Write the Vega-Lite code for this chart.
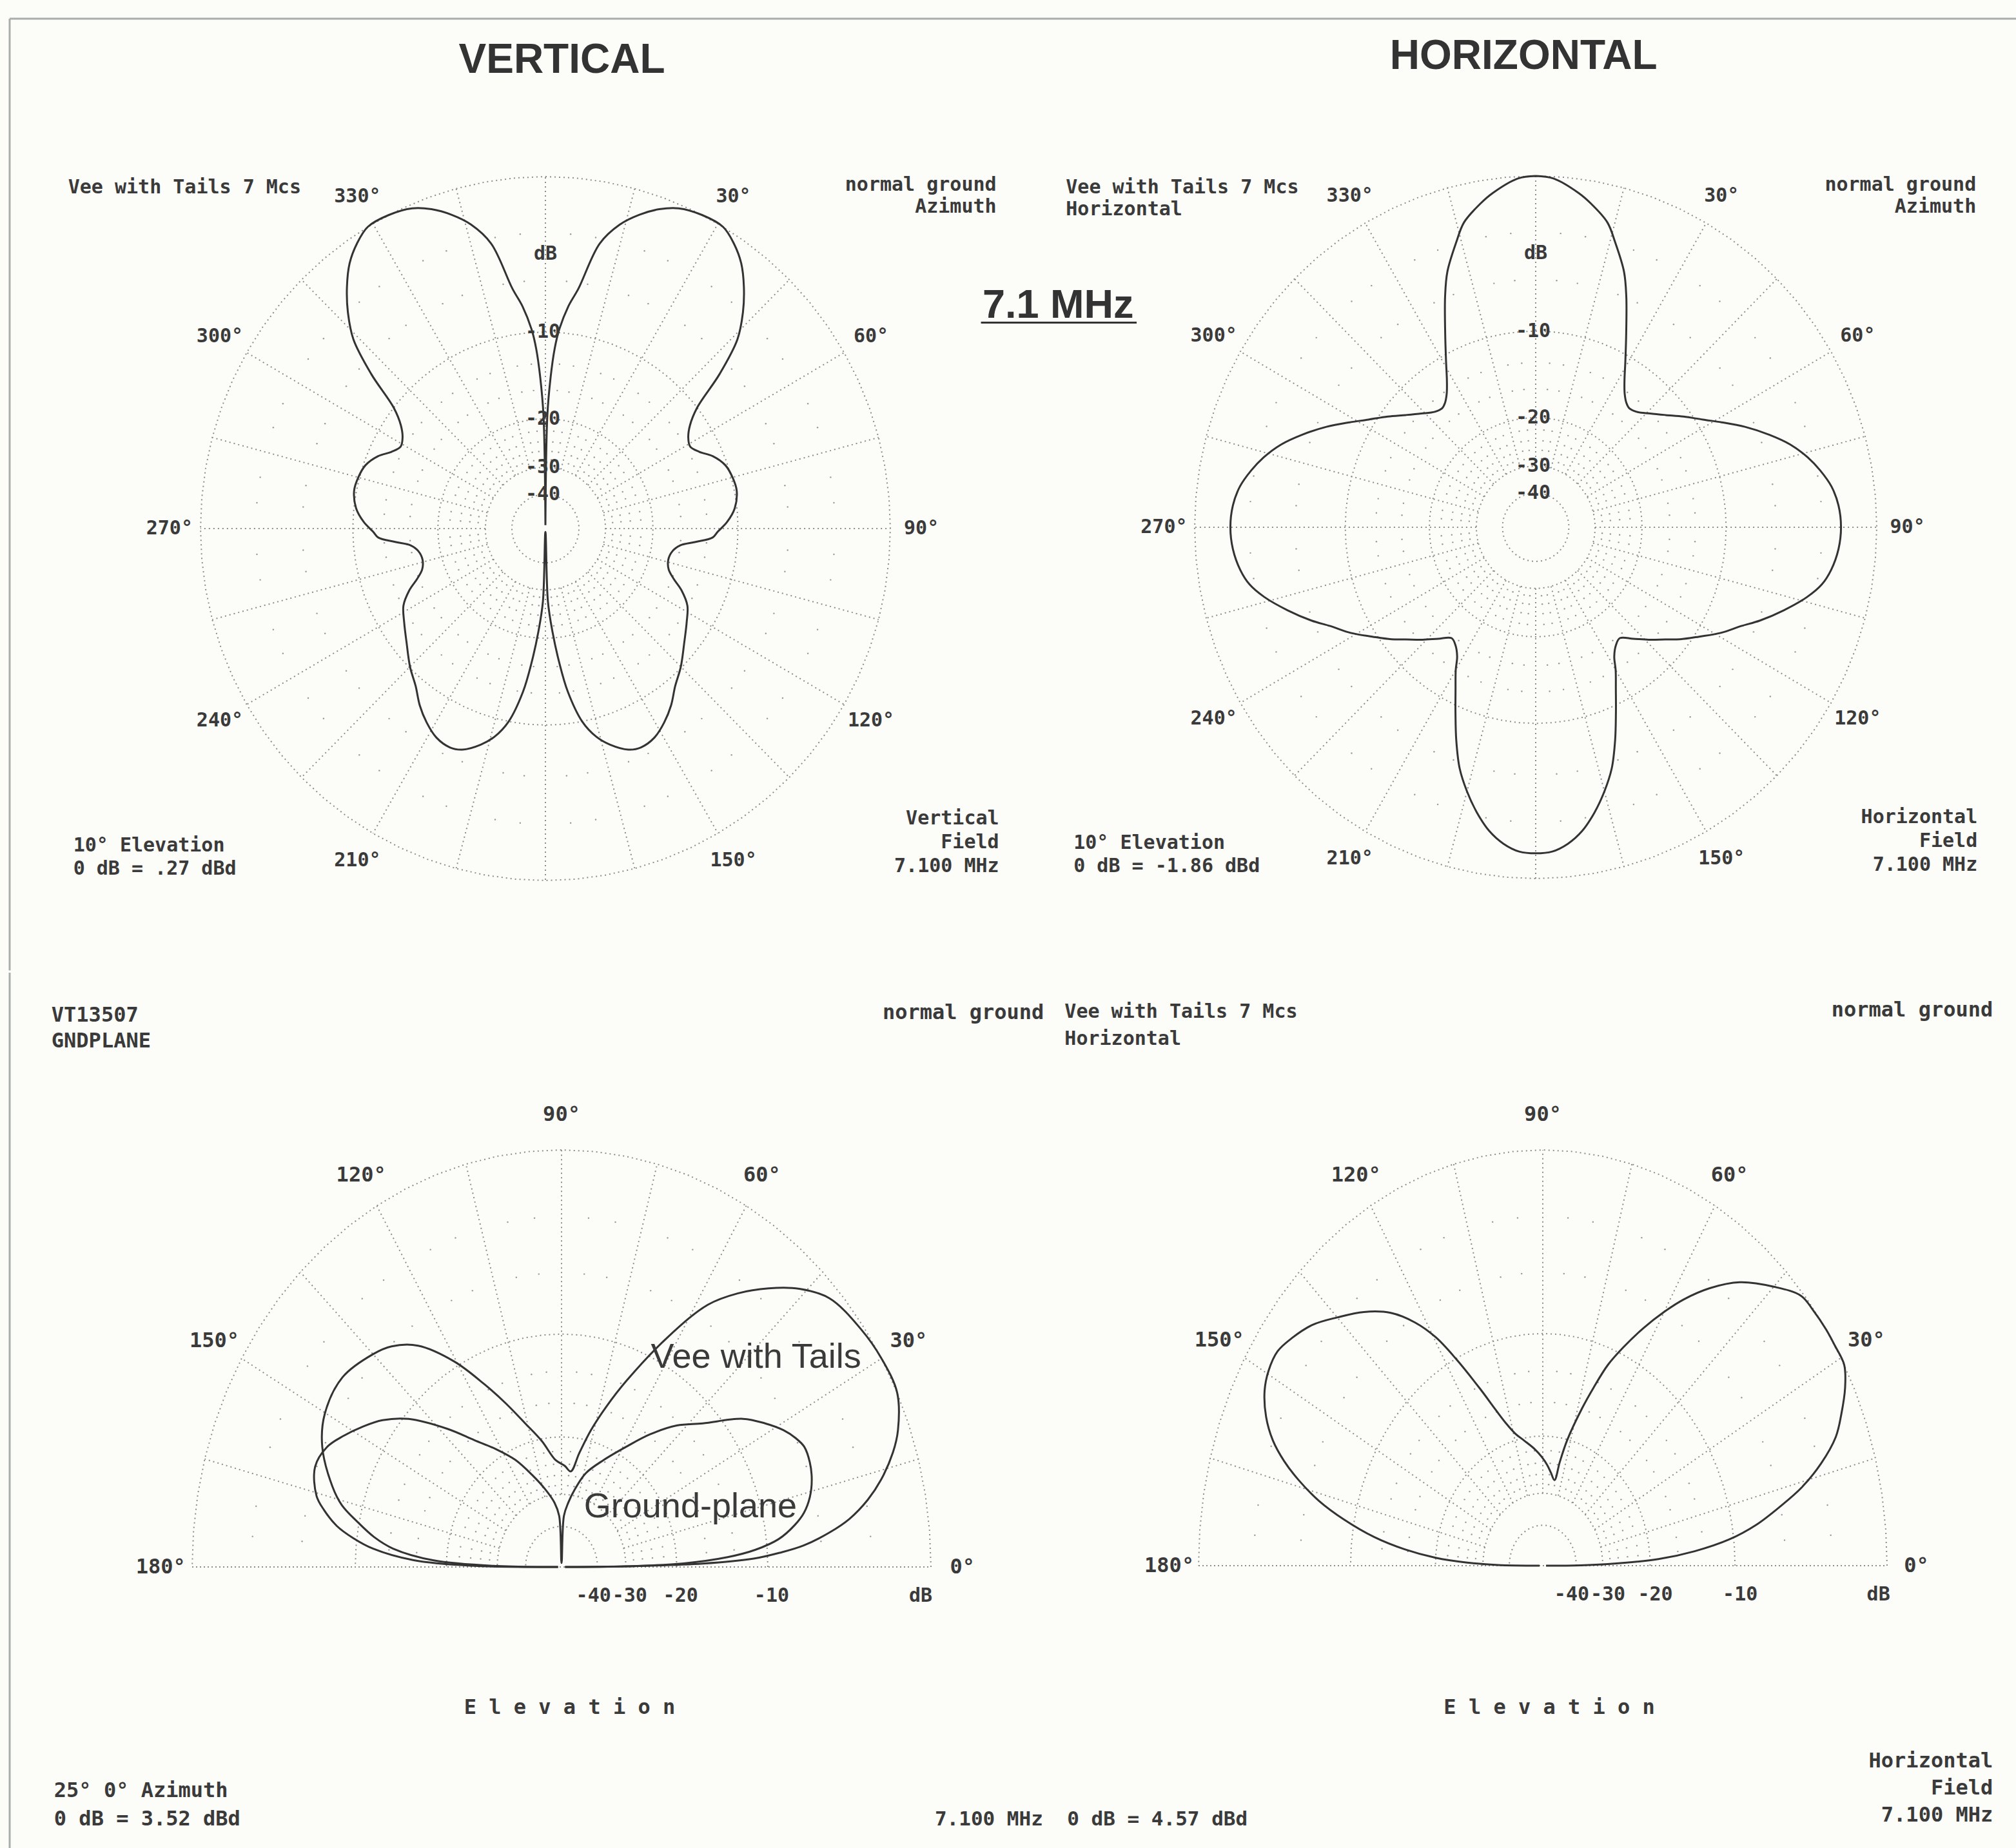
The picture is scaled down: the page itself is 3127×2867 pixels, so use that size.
{
  "$schema": "https://vega.github.io/schema/vega-lite/v6.json",
  "background": "#fcfcf8",
  "padding": 0,
  "spacing": 0,
  "config": {
    "view": {"stroke": null},
    "axis": {"disable": true},
    "concat": {"spacing": 0},
    "text": {"font": "DejaVu Sans Mono", "fontWeight": "bold", "fontSize": 30, "fill": "#3a3a3a"}
  },
  "datasets": {
    "ringsAz": [{"ring": [0, -10, -20, -30, -40], "a": [0,5,10,15,20,25,30,35,40,45,50,55,60,65,70,75,80,85,90,95,100,105,110,115,120,125,130,135,140,145,150,155,160,165,170,175,180,185,190,195,200,205,210,215,220,225,230,235,240,245,250,255,260,265,270,275,280,285,290,295,300,305,310,315,320,325,330,335,340,345,350,355,360]}],
    "ringsEl": [{"ring": [0, -10, -20, -30, -40], "a": [0,5,10,15,20,25,30,35,40,45,50,55,60,65,70,75,80,85,90,95,100,105,110,115,120,125,130,135,140,145,150,155,160,165,170,175,180]}],
    "dotsAz": [{"m": [-3, -6, -13, -16, -22, -24, -26, -28], "a": [5,10,20,25,35,40,50,55,65,70,80,85,95,100,110,115,125,130,140,145,155,160,170,175,185,190,200,205,215,220,230,235,245,250,260,265,275,280,290,295,305,310,320,325,335,340,350,355]}],
    "dotsEl": [{"m": [-3, -6, -13, -16, -22, -24, -26, -28], "a": [5,10,20,25,35,40,50,55,65,70,80,85,95,100,110,115,125,130,140,145,155,160,170,175]}],
    "spokesAz": [{"s": [0,15,30,45,60,75,90,105,120,135,150,165,180,195,210,225,240,255,270,285,300,315,330,345]}],
    "spokesEl": [{"s": [15,30,45,60,75,90,105,120,135,150,165]}],
    "angAz": [{"a": 30, "t": "30°"}, {"a": 60, "t": "60°"}, {"a": 90, "t": "90°"}, {"a": 120, "t": "120°"}, {"a": 150, "t": "150°"}, {"a": 210, "t": "210°"}, {"a": 240, "t": "240°"}, {"a": 270, "t": "270°"}, {"a": 300, "t": "300°"}, {"a": 330, "t": "330°"}],
    "angEl": [{"a": 0, "t": "0°"}, {"a": 30, "t": "30°"}, {"a": 60, "t": "60°"}, {"a": 90, "t": "90°"}, {"a": 120, "t": "120°"}, {"a": 150, "t": "150°"}, {"a": 180, "t": "180°"}],
    "dbLab": [{"d": -10, "t": "-10"}, {"d": -20, "t": "-20"}, {"d": -30, "t": "-30"}, {"d": -40, "t": "-40"}],
    "vaz": [
      {"az":0,"dB":-80},{"az":1,"dB":-19.5},{"az":2,"dB":-14.5},{"az":3,"dB":-11.5},{"az":4,"dB":-9.8},{"az":6,"dB":-7.8},{"az":8,"dB":-6.4},{"az":11,"dB":-3.3},{"az":14,"dB":-2.0},{"az":17,"dB":-1.2},{"az":20,"dB":-0.6},{"az":23,"dB":-0.2},{"az":27,"dB":0},{"az":31,"dB":0},{"az":34,"dB":-0.4},{"az":37,"dB":-1.0},{"az":40,"dB":-1.9},{"az":43,"dB":-3.0},{"az":46,"dB":-4.4},{"az":49,"dB":-6.9},{"az":52,"dB":-10.0},{"az":55,"dB":-11.5},{"az":58,"dB":-12.3},{"az":61,"dB":-12.6},{"az":64,"dB":-12.0},{"az":67,"dB":-11.0},{"az":71,"dB":-10.2},{"az":75,"dB":-9.9},{"az":79,"dB":-9.8},{"az":84,"dB":-10.2},{"az":88,"dB":-11.0},{"az":91,"dB":-11.9},{"az":93,"dB":-12.4},{"az":95,"dB":-14.2},{"az":97,"dB":-16.0},{"az":100,"dB":-16.9},{"az":104,"dB":-17.2},{"az":108,"dB":-16.8},{"az":111,"dB":-15.8},{"az":114,"dB":-14.4},{"az":118,"dB":-13.1},{"az":123,"dB":-12.3},{"az":129,"dB":-11.3},{"az":135,"dB":-10.1},{"az":140,"dB":-9.2},{"az":144,"dB":-8.2},{"az":148,"dB":-7.4},{"az":152,"dB":-6.8},{"az":156,"dB":-6.6},{"az":159,"dB":-6.8},{"az":163,"dB":-7.6},{"az":166,"dB":-8.5},{"az":169,"dB":-10.0},{"az":172,"dB":-13.0},{"az":174,"dB":-16.5},{"az":176,"dB":-21},{"az":178,"dB":-27},{"az":180,"dB":-80},
      {"az":182,"dB":-27},{"az":184,"dB":-21},{"az":186,"dB":-16.5},{"az":188,"dB":-13.0},{"az":191,"dB":-10.0},{"az":194,"dB":-8.5},{"az":197,"dB":-7.6},{"az":201,"dB":-6.8},{"az":204,"dB":-6.6},{"az":208,"dB":-6.8},{"az":212,"dB":-7.4},{"az":216,"dB":-8.2},{"az":220,"dB":-9.2},{"az":225,"dB":-10.1},{"az":231,"dB":-11.3},{"az":237,"dB":-12.3},{"az":242,"dB":-13.1},{"az":246,"dB":-14.4},{"az":249,"dB":-15.8},{"az":252,"dB":-16.8},{"az":256,"dB":-17.2},{"az":260,"dB":-16.9},{"az":263,"dB":-16.0},{"az":265,"dB":-14.2},{"az":267,"dB":-12.4},{"az":269,"dB":-11.9},{"az":272,"dB":-11.0},{"az":276,"dB":-10.2},{"az":281,"dB":-9.8},{"az":285,"dB":-9.9},{"az":289,"dB":-10.2},{"az":293,"dB":-11.0},{"az":296,"dB":-12.0},{"az":299,"dB":-12.6},{"az":302,"dB":-12.3},{"az":305,"dB":-11.5},{"az":308,"dB":-10.0},{"az":311,"dB":-6.9},{"az":314,"dB":-4.4},{"az":317,"dB":-3.0},{"az":320,"dB":-1.9},{"az":323,"dB":-1.0},{"az":326,"dB":-0.4},{"az":329,"dB":0},{"az":333,"dB":0},{"az":337,"dB":-0.2},{"az":340,"dB":-0.6},{"az":343,"dB":-1.2},{"az":346,"dB":-2.0},{"az":349,"dB":-3.3},{"az":352,"dB":-6.4},{"az":354,"dB":-7.8},{"az":356,"dB":-9.8},{"az":357,"dB":-11.5},{"az":358,"dB":-14.5},{"az":359,"dB":-19.5},{"az":360,"dB":-80}
    ],
    "haz": [
      {"az":0,"dB":0},{"az":3,"dB":-0.1},{"az":7.5,"dB":-0.7},{"az":10,"dB":-1.15},{"az":13.6,"dB":-1.94},{"az":16,"dB":-2.9},{"az":19.6,"dB":-4.44},{"az":22,"dB":-5.9},{"az":25.7,"dB":-8.43},{"az":29,"dB":-10.5},{"az":32,"dB":-12.2},{"az":34.5,"dB":-13.3},{"az":37,"dB":-14.0},{"az":39,"dB":-14.25},{"az":42,"dB":-14.0},{"az":46,"dB":-13.1},{"az":50,"dB":-12.0},{"az":54,"dB":-10.7},{"az":58,"dB":-9.4},{"az":61.3,"dB":-8.15},{"az":65,"dB":-6.7},{"az":69,"dB":-5.3},{"az":72.5,"dB":-4.2},{"az":76,"dB":-3.36},{"az":79,"dB":-2.8},{"az":82.4,"dB":-2.29},{"az":86,"dB":-2.0},{"az":90,"dB":-1.9},{"az":94,"dB":-2.0},{"az":98,"dB":-2.3},{"az":101,"dB":-2.7},{"az":104,"dB":-3.4},{"az":108,"dB":-4.6},{"az":112,"dB":-5.9},{"az":115,"dB":-7.0},{"az":119,"dB":-8.2},{"az":123,"dB":-9.6},{"az":127,"dB":-10.9},{"az":130,"dB":-12.0},{"az":134,"dB":-13.3},{"az":138,"dB":-14.6},{"az":142,"dB":-15.7},{"az":145,"dB":-15.3},{"az":148,"dB":-14.3},{"az":150,"dB":-13.0},{"az":153,"dB":-11.3},{"az":156,"dB":-9.4},{"az":159,"dB":-7.4},{"az":162,"dB":-5.6},{"az":165,"dB":-4.3},{"az":168,"dB":-3.2},{"az":171,"dB":-2.3},{"az":174,"dB":-1.7},{"az":177,"dB":-1.35},{"az":180,"dB":-1.28},
      {"az":183,"dB":-1.35},{"az":186,"dB":-1.7},{"az":189,"dB":-2.3},{"az":192,"dB":-3.2},{"az":195,"dB":-4.3},{"az":198,"dB":-5.6},{"az":201,"dB":-7.4},{"az":204,"dB":-9.4},{"az":207,"dB":-11.3},{"az":210,"dB":-13.0},{"az":212,"dB":-14.3},{"az":215,"dB":-15.3},{"az":218,"dB":-15.7},{"az":222,"dB":-14.6},{"az":226,"dB":-13.3},{"az":230,"dB":-12.0},{"az":233,"dB":-10.9},{"az":237,"dB":-9.6},{"az":241,"dB":-8.2},{"az":245,"dB":-7.0},{"az":248,"dB":-5.9},{"az":252,"dB":-4.6},{"az":256,"dB":-3.4},{"az":259,"dB":-2.7},{"az":262,"dB":-2.3},{"az":266,"dB":-2.0},{"az":270,"dB":-1.9},{"az":274,"dB":-2.0},{"az":277.6,"dB":-2.29},{"az":281,"dB":-2.8},{"az":284,"dB":-3.36},{"az":287.5,"dB":-4.2},{"az":291,"dB":-5.3},{"az":295,"dB":-6.7},{"az":298.7,"dB":-8.15},{"az":302,"dB":-9.4},{"az":306,"dB":-10.7},{"az":310,"dB":-12.0},{"az":314,"dB":-13.1},{"az":318,"dB":-14.0},{"az":321,"dB":-14.25},{"az":323,"dB":-14.0},{"az":325.5,"dB":-13.3},{"az":328,"dB":-12.2},{"az":331,"dB":-10.5},{"az":334.3,"dB":-8.43},{"az":338,"dB":-5.9},{"az":340.4,"dB":-4.44},{"az":344,"dB":-2.9},{"az":346.4,"dB":-1.94},{"az":350,"dB":-1.15},{"az":352.5,"dB":-0.7},{"az":357,"dB":-0.1},{"az":360,"dB":0}
    ],
    "bl": [
      {"s":"Vee","el":0,"dB":-80},{"s":"Vee","el":0.5,"dB":-30},{"s":"Vee","el":1.2,"dB":-16.5},{"s":"Vee","el":2.2,"dB":-11.2},{"s":"Vee","el":3.3,"dB":-9.0},{"s":"Vee","el":4.5,"dB":-7.2},{"s":"Vee","el":6.5,"dB":-5.4},{"s":"Vee","el":8.4,"dB":-4.1},{"s":"Vee","el":11,"dB":-2.9},{"s":"Vee","el":13.6,"dB":-2.0},{"s":"Vee","el":17,"dB":-1.1},{"s":"Vee","el":19.8,"dB":-0.56},{"s":"Vee","el":24.7,"dB":0},{"s":"Vee","el":30,"dB":0},{"s":"Vee","el":35,"dB":-0.15},{"s":"Vee","el":41.6,"dB":-0.52},{"s":"Vee","el":46,"dB":-1.3},{"s":"Vee","el":50,"dB":-2.35},{"s":"Vee","el":54,"dB":-3.6},{"s":"Vee","el":57.8,"dB":-5.1},{"s":"Vee","el":62.5,"dB":-8.2},{"s":"Vee","el":68.5,"dB":-12.6},{"s":"Vee","el":72.5,"dB":-15.6},{"s":"Vee","el":76.3,"dB":-18.6},{"s":"Vee","el":80,"dB":-22},{"s":"Vee","el":83.8,"dB":-25.2},{"s":"Vee","el":88,"dB":-24.3},{"s":"Vee","el":93.7,"dB":-23.3},{"s":"Vee","el":100,"dB":-20.3},{"s":"Vee","el":106,"dB":-17.6},{"s":"Vee","el":111,"dB":-14.9},{"s":"Vee","el":115.5,"dB":-12.4},{"s":"Vee","el":120.5,"dB":-9.6},{"s":"Vee","el":126.2,"dB":-7.2},{"s":"Vee","el":131,"dB":-6.1},{"s":"Vee","el":135,"dB":-5.6},{"s":"Vee","el":142.5,"dB":-5.0},{"s":"Vee","el":150.2,"dB":-5.2},{"s":"Vee","el":156,"dB":-5.9},{"s":"Vee","el":162.7,"dB":-7.4},{"s":"Vee","el":166,"dB":-8.4},{"s":"Vee","el":169,"dB":-9.9},{"s":"Vee","el":172,"dB":-11.5},{"s":"Vee","el":174.5,"dB":-13.4},{"s":"Vee","el":177.4,"dB":-18.2},{"s":"Vee","el":179.3,"dB":-30},{"s":"Vee","el":180,"dB":-80},
      {"s":"GP","el":0,"dB":-80},{"s":"GP","el":0.5,"dB":-30},{"s":"GP","el":1.5,"dB":-19},{"s":"GP","el":3,"dB":-13.7},{"s":"GP","el":4.5,"dB":-11},{"s":"GP","el":6.5,"dB":-9.0},{"s":"GP","el":9,"dB":-7.7},{"s":"GP","el":11.2,"dB":-6.9},{"s":"GP","el":14,"dB":-6.3},{"s":"GP","el":17.2,"dB":-5.9},{"s":"GP","el":20.5,"dB":-5.7},{"s":"GP","el":23.7,"dB":-5.7},{"s":"GP","el":26,"dB":-6.0},{"s":"GP","el":28.6,"dB":-6.5},{"s":"GP","el":32,"dB":-7.4},{"s":"GP","el":35.9,"dB":-8.6},{"s":"GP","el":42,"dB":-11.4},{"s":"GP","el":47.4,"dB":-13.3},{"s":"GP","el":53,"dB":-15.8},{"s":"GP","el":58.6,"dB":-18.6},{"s":"GP","el":66,"dB":-21.8},{"s":"GP","el":73.7,"dB":-24.9},{"s":"GP","el":79,"dB":-28.5},{"s":"GP","el":83.3,"dB":-32},{"s":"GP","el":87,"dB":-36},{"s":"GP","el":90,"dB":-80},{"s":"GP","el":93,"dB":-36},{"s":"GP","el":97,"dB":-32},{"s":"GP","el":103.3,"dB":-28.4},{"s":"GP","el":110,"dB":-24.8},{"s":"GP","el":116,"dB":-21.5},{"s":"GP","el":122,"dB":-18.9},{"s":"GP","el":127.8,"dB":-16.4},{"s":"GP","el":133,"dB":-13.6},{"s":"GP","el":139.4,"dB":-10.4},{"s":"GP","el":144,"dB":-8.8},{"s":"GP","el":148,"dB":-7.8},{"s":"GP","el":152,"dB":-6.9},{"s":"GP","el":155.6,"dB":-6.2},{"s":"GP","el":160.2,"dB":-5.9},{"s":"GP","el":165.6,"dB":-6.5},{"s":"GP","el":168,"dB":-7.2},{"s":"GP","el":170.8,"dB":-8.3},{"s":"GP","el":173,"dB":-9.7},{"s":"GP","el":175.1,"dB":-11.5},{"s":"GP","el":177.7,"dB":-15.7},{"s":"GP","el":179.3,"dB":-24},{"s":"GP","el":180,"dB":-80}
    ],
    "hel": [
      {"el":0,"dB":-80},{"el":0.5,"dB":-38},{"el":1.2,"dB":-28.6},{"el":2.7,"dB":-18.7},{"el":4.5,"dB":-14},{"el":6.66,"dB":-10.4},{"el":9,"dB":-8.0},{"el":11.7,"dB":-6.0},{"el":14,"dB":-4.4},{"el":16.9,"dB":-2.9},{"el":20,"dB":-1.7},{"el":22.8,"dB":-1.05},{"el":26,"dB":-0.4},{"el":28.9,"dB":0},{"el":32,"dB":0},{"el":34.6,"dB":0},{"el":38,"dB":-0.05},{"el":40.9,"dB":-0.14},{"el":45,"dB":-0.9},{"el":50,"dB":-2.0},{"el":54,"dB":-3.3},{"el":57.4,"dB":-4.7},{"el":60,"dB":-6.0},{"el":62.9,"dB":-7.6},{"el":66,"dB":-9.5},{"el":68.6,"dB":-11.25},{"el":71,"dB":-13.6},{"el":73.2,"dB":-15.9},{"el":76.8,"dB":-20.1},{"el":78.8,"dB":-23.5},{"el":80.6,"dB":-26.9},{"el":84,"dB":-25.6},{"el":87,"dB":-24.3},{"el":90.7,"dB":-23.0},{"el":95,"dB":-21.7},{"el":100.3,"dB":-20.3},{"el":104,"dB":-19.2},{"el":107.3,"dB":-17.6},{"el":110,"dB":-15.8},{"el":113.2,"dB":-13.2},{"el":116.9,"dB":-10.0},{"el":119.5,"dB":-7.9},{"el":122.4,"dB":-6.3},{"el":126,"dB":-4.9},{"el":130.4,"dB":-3.8},{"el":135,"dB":-2.9},{"el":139.1,"dB":-2.1},{"el":143,"dB":-1.6},{"el":146.2,"dB":-1.3},{"el":149.5,"dB":-1.35},{"el":152.5,"dB":-1.6},{"el":156,"dB":-2.2},{"el":159,"dB":-3.0},{"el":161.5,"dB":-4.0},{"el":163.8,"dB":-5.2},{"el":166.5,"dB":-6.9},{"el":169.1,"dB":-9.1},{"el":172,"dB":-12.1},{"el":174.4,"dB":-15.6},{"el":176.5,"dB":-20},{"el":178,"dB":-25.7},{"el":179.3,"dB":-35},{"el":180,"dB":-80}
    ]
  },
  "vconcat": [
    {
      "spacing": 0,
      "bounds": "flush",
      "hconcat": [
        {
          "width": 1563,
          "height": 1500,
          "layer": [
            {
              "data": {"name": "ringsAz"},
              "transform": [{"flatten": ["ring"]}, {"flatten": ["a"]}, {"calculate": "pow(0.89,-datum.ring/2)", "as": "r"}, {"calculate": "datum.r*sin(datum.a*PI/180)", "as": "x"}, {"calculate": "datum.r*cos(datum.a*PI/180)", "as": "y"}],
              "mark": {"type": "line", "color": "#8c8c8c", "strokeWidth": 2, "strokeDash": [2, 5]},
              "encoding": {
                "x": {"field": "x", "type": "quantitative", "scale": {"domain": [-1.5813, 1.3402], "nice": false, "zero": false}},
                "y": {"field": "y", "type": "quantitative", "scale": {"domain": [-1.2454, 1.5018], "nice": false, "zero": false}},
                "detail": {"field": "ring"},
                "order": {"field": "a", "type": "quantitative"}
              }
            },
            {
              "data": {"name": "spokesAz"},
              "transform": [{"flatten": ["s"]}, {"calculate": "pow(0.89,15)", "as": "r0"}, {"calculate": "datum.r0*sin(datum.s*PI/180)", "as": "x"}, {"calculate": "datum.r0*cos(datum.s*PI/180)", "as": "y"}, {"calculate": "sin(datum.s*PI/180)", "as": "x2"}, {"calculate": "cos(datum.s*PI/180)", "as": "y2"}],
              "mark": {"type": "rule", "color": "#8c8c8c", "strokeWidth": 2, "strokeDash": [2, 5]},
              "encoding": {"x": {"field": "x", "type": "quantitative"}, "y": {"field": "y", "type": "quantitative"}, "x2": {"field": "x2"}, "y2": {"field": "y2"}}
            },
            {
              "data": {"name": "dotsAz"},
              "transform": [{"flatten": ["m"]}, {"flatten": ["a"]}, {"calculate": "pow(0.89,-datum.m/2)", "as": "r"}, {"calculate": "datum.r*sin(datum.a*PI/180)", "as": "x"}, {"calculate": "datum.r*cos(datum.a*PI/180)", "as": "y"}],
              "mark": {"type": "circle", "size": 6, "color": "#999999", "opacity": 1},
              "encoding": {"x": {"field": "x", "type": "quantitative"}, "y": {"field": "y", "type": "quantitative"}}
            },
            {
              "data": {"name": "vaz"},
              "transform": [{"calculate": "pow(0.89,-datum.dB/2)", "as": "r"}, {"calculate": "datum.r*sin(datum.az*PI/180)", "as": "x"}, {"calculate": "datum.r*cos(datum.az*PI/180)", "as": "y"}],
              "mark": {"type": "line", "interpolate": "catmull-rom", "color": "#333333", "strokeWidth": 3},
              "encoding": {"x": {"field": "x", "type": "quantitative"}, "y": {"field": "y", "type": "quantitative"}, "order": {"field": "az", "type": "quantitative"}}
            },
            {
              "data": {"name": "angAz"},
              "transform": [{"calculate": "1.09*sin(datum.a*PI/180)", "as": "x"}, {"calculate": "1.09*cos(datum.a*PI/180)", "as": "y"}],
              "mark": {"type": "text", "align": "center", "baseline": "middle"},
              "encoding": {"x": {"field": "x", "type": "quantitative"}, "y": {"field": "y", "type": "quantitative"}, "text": {"field": "t"}}
            },
            {
              "data": {"name": "dbLab"},
              "transform": [{"calculate": "pow(0.89,-datum.d/2)", "as": "y"}],
              "mark": {"type": "text", "align": "center", "baseline": "middle", "dx": -4},
              "encoding": {"x": {"datum": 0}, "y": {"field": "y", "type": "quantitative"}, "text": {"field": "t"}}
            },
            {"data": {"values": [{}]}, "mark": {"type": "text", "text": "dB", "align": "center", "baseline": "middle"}, "encoding": {"x": {"datum": 0}, "y": {"datum": 0.78}}},
            {"data": {"values": [{}]}, "mark": {"type": "text", "text": "VERTICAL", "align": "center", "baseline": "alphabetic", "font": "Liberation Sans", "fontWeight": "bold", "fontSize": 64, "fill": "#333333"}, "encoding": {"x": {"datum": 0.0477}, "y": {"datum": 1.2956}}},
            {"data": {"values": [{}]}, "mark": {"type": "text", "text": "Vee with Tails 7 Mcs", "align": "left", "baseline": "alphabetic"}, "encoding": {"x": {"datum": -1.3837}, "y": {"datum": 0.952}}},
            {"data": {"values": [{}]}, "mark": {"type": "text", "text": ["normal ground", "Azimuth"], "align": "right", "baseline": "alphabetic", "lineHeight": 34}, "encoding": {"x": {"datum": 1.3077}, "y": {"datum": 0.9593}}},
            {"data": {"values": [{}]}, "mark": {"type": "text", "text": ["10° Elevation", "0 dB = .27 dBd"], "align": "left", "baseline": "alphabetic", "lineHeight": 36}, "encoding": {"x": {"datum": -1.3688}, "y": {"datum": -0.9181}}},
            {"data": {"values": [{}]}, "mark": {"type": "text", "text": ["Vertical", "Field", "7.100 MHz"], "align": "right", "baseline": "alphabetic", "lineHeight": 37}, "encoding": {"x": {"datum": 1.3151}, "y": {"datum": -0.8414}}},
            {"data": {"values": [{}]}, "mark": {"type": "rule", "color": "#a7aeab", "strokeWidth": 3}, "encoding": {"x": {"datum": -1.5533}, "x2": {"datum": 1.3402}, "y": {"datum": 1.4487}}},
            {"data": {"values": [{}]}, "mark": {"type": "rule", "color": "#a7aeab", "strokeWidth": 3}, "encoding": {"x": {"datum": -1.5533}, "y": {"datum": 1.4487}, "y2": {"datum": -1.2554}}}
          ]
        },
        {
          "width": 1564,
          "height": 1500,
          "layer": [
            {
              "data": {"name": "ringsAz"},
              "transform": [{"flatten": ["ring"]}, {"flatten": ["a"]}, {"calculate": "pow(0.89,-datum.ring/2)", "as": "r"}, {"calculate": "datum.r*sin(datum.a*PI/180)", "as": "x"}, {"calculate": "datum.r*cos(datum.a*PI/180)", "as": "y"}],
              "mark": {"type": "line", "color": "#8c8c8c", "strokeWidth": 2, "strokeDash": [2, 5]},
              "encoding": {
                "x": {"field": "x", "type": "quantitative", "scale": {"domain": [-1.5482, 1.4083], "nice": false, "zero": false}},
                "y": {"field": "y", "type": "quantitative", "scale": {"domain": [-1.2514, 1.5009], "nice": false, "zero": false}},
                "detail": {"field": "ring"},
                "order": {"field": "a", "type": "quantitative"}
              }
            },
            {
              "data": {"name": "spokesAz"},
              "transform": [{"flatten": ["s"]}, {"calculate": "pow(0.89,15)", "as": "r0"}, {"calculate": "datum.r0*sin(datum.s*PI/180)", "as": "x"}, {"calculate": "datum.r0*cos(datum.s*PI/180)", "as": "y"}, {"calculate": "sin(datum.s*PI/180)", "as": "x2"}, {"calculate": "cos(datum.s*PI/180)", "as": "y2"}],
              "mark": {"type": "rule", "color": "#8c8c8c", "strokeWidth": 2, "strokeDash": [2, 5]},
              "encoding": {"x": {"field": "x", "type": "quantitative"}, "y": {"field": "y", "type": "quantitative"}, "x2": {"field": "x2"}, "y2": {"field": "y2"}}
            },
            {
              "data": {"name": "dotsAz"},
              "transform": [{"flatten": ["m"]}, {"flatten": ["a"]}, {"calculate": "pow(0.89,-datum.m/2)", "as": "r"}, {"calculate": "datum.r*sin(datum.a*PI/180)", "as": "x"}, {"calculate": "datum.r*cos(datum.a*PI/180)", "as": "y"}],
              "mark": {"type": "circle", "size": 6, "color": "#999999", "opacity": 1},
              "encoding": {"x": {"field": "x", "type": "quantitative"}, "y": {"field": "y", "type": "quantitative"}}
            },
            {
              "data": {"name": "haz"},
              "transform": [{"calculate": "pow(0.89,-datum.dB/2)", "as": "r"}, {"calculate": "datum.r*sin(datum.az*PI/180)", "as": "x"}, {"calculate": "datum.r*cos(datum.az*PI/180)", "as": "y"}],
              "mark": {"type": "line", "interpolate": "catmull-rom", "color": "#333333", "strokeWidth": 3},
              "encoding": {"x": {"field": "x", "type": "quantitative"}, "y": {"field": "y", "type": "quantitative"}, "order": {"field": "az", "type": "quantitative"}}
            },
            {
              "data": {"name": "angAz"},
              "transform": [{"calculate": "1.09*sin(datum.a*PI/180)", "as": "x"}, {"calculate": "1.09*cos(datum.a*PI/180)", "as": "y"}],
              "mark": {"type": "text", "align": "center", "baseline": "middle"},
              "encoding": {"x": {"field": "x", "type": "quantitative"}, "y": {"field": "y", "type": "quantitative"}, "text": {"field": "t"}}
            },
            {
              "data": {"name": "dbLab"},
              "transform": [{"calculate": "pow(0.89,-datum.d/2)", "as": "y"}],
              "mark": {"type": "text", "align": "center", "baseline": "middle", "dx": -4},
              "encoding": {"x": {"datum": 0}, "y": {"field": "y", "type": "quantitative"}, "text": {"field": "t"}}
            },
            {"data": {"values": [{}]}, "mark": {"type": "text", "text": "dB", "align": "center", "baseline": "middle"}, "encoding": {"x": {"datum": 0}, "y": {"datum": 0.78}}},
            {"data": {"values": [{}]}, "mark": {"type": "text", "text": "HORIZONTAL", "align": "center", "baseline": "alphabetic", "font": "Liberation Sans", "fontWeight": "bold", "fontSize": 64, "fill": "#333333"}, "encoding": {"x": {"datum": -0.0355}, "y": {"datum": 1.3051}}},
            {"data": {"values": [{}]}, "mark": {"type": "text", "text": "7.1 MHz", "align": "center", "baseline": "alphabetic", "font": "Liberation Sans", "fontWeight": "bold", "fontSize": 63, "fill": "#333333"}, "encoding": {"x": {"datum": -1.4002}, "y": {"datum": 0.5961}}},
            {"data": {"values": [{}]}, "mark": {"type": "rule", "color": "#333333", "strokeWidth": 3}, "encoding": {"x": {"datum": -1.6265}, "x2": {"datum": -1.1701}, "y": {"datum": 0.5824}}},
            {"data": {"values": [{}]}, "mark": {"type": "text", "text": ["Vee with Tails 7 Mcs", "Horizontal"], "align": "left", "baseline": "alphabetic", "lineHeight": 34}, "encoding": {"x": {"datum": -1.3775}, "y": {"datum": 0.9501}}},
            {"data": {"values": [{}]}, "mark": {"type": "text", "text": ["normal ground", "Azimuth"], "align": "right", "baseline": "alphabetic", "lineHeight": 34}, "encoding": {"x": {"datum": 1.2915}, "y": {"datum": 0.9574}}},
            {"data": {"values": [{}]}, "mark": {"type": "text", "text": ["10° Elevation", "0 dB = -1.86 dBd"], "align": "left", "baseline": "alphabetic", "lineHeight": 36}, "encoding": {"x": {"datum": -1.355}, "y": {"datum": -0.9162}}},
            {"data": {"values": [{}]}, "mark": {"type": "text", "text": ["Horizontal", "Field", "7.100 MHz"], "align": "right", "baseline": "alphabetic", "lineHeight": 37}, "encoding": {"x": {"datum": 1.2953}, "y": {"datum": -0.8429}}},
            {"data": {"values": [{}]}, "mark": {"type": "rule", "color": "#a7aeab", "strokeWidth": 3}, "encoding": {"x": {"datum": -1.5482}, "x2": {"datum": 1.4083}, "y": {"datum": 1.4477}}}
          ]
        }
      ]
    },
    {
      "spacing": 0,
      "bounds": "flush",
      "hconcat": [
        {
          "width": 1563,
          "height": 1367,
          "layer": [
            {
              "data": {"name": "ringsEl"},
              "transform": [{"flatten": ["ring"]}, {"flatten": ["a"]}, {"calculate": "pow(0.89,-datum.ring/2)", "as": "r"}, {"calculate": "datum.r*cos(datum.a*PI/180)", "as": "x"}, {"calculate": "datum.r*sin(datum.a*PI/180)", "as": "y"}],
              "mark": {"type": "line", "color": "#8c8c8c", "strokeWidth": 2, "strokeDash": [2, 5]},
              "encoding": {
                "x": {"field": "x", "type": "quantitative", "scale": {"domain": [-1.5201, 1.2077], "nice": false, "zero": false}},
                "y": {"field": "y", "type": "quantitative", "scale": {"domain": [-0.6878, 1.425], "nice": false, "zero": false}},
                "detail": {"field": "ring"},
                "order": {"field": "a", "type": "quantitative"}
              }
            },
            {
              "data": {"name": "spokesEl"},
              "transform": [{"flatten": ["s"]}, {"calculate": "pow(0.89,15)", "as": "r0"}, {"calculate": "datum.r0*cos(datum.s*PI/180)", "as": "x"}, {"calculate": "datum.r0*sin(datum.s*PI/180)", "as": "y"}, {"calculate": "cos(datum.s*PI/180)", "as": "x2"}, {"calculate": "sin(datum.s*PI/180)", "as": "y2"}],
              "mark": {"type": "rule", "color": "#8c8c8c", "strokeWidth": 2, "strokeDash": [2, 5]},
              "encoding": {"x": {"field": "x", "type": "quantitative"}, "y": {"field": "y", "type": "quantitative"}, "x2": {"field": "x2"}, "y2": {"field": "y2"}}
            },
            {"data": {"values": [{}]}, "mark": {"type": "rule", "color": "#8c8c8c", "strokeWidth": 2, "strokeDash": [2, 4]}, "encoding": {"x": {"datum": -1}, "x2": {"datum": 1}, "y": {"datum": 0}}},
            {
              "data": {"name": "dotsEl"},
              "transform": [{"flatten": ["m"]}, {"flatten": ["a"]}, {"calculate": "pow(0.89,-datum.m/2)", "as": "r"}, {"calculate": "datum.r*cos(datum.a*PI/180)", "as": "x"}, {"calculate": "datum.r*sin(datum.a*PI/180)", "as": "y"}],
              "mark": {"type": "circle", "size": 6, "color": "#999999", "opacity": 1},
              "encoding": {"x": {"field": "x", "type": "quantitative"}, "y": {"field": "y", "type": "quantitative"}}
            },
            {
              "data": {"name": "bl"},
              "transform": [{"calculate": "pow(0.89,-datum.dB/2)", "as": "r"}, {"calculate": "datum.r*cos(datum.el*PI/180)", "as": "x"}, {"calculate": "datum.r*sin(datum.el*PI/180)", "as": "y"}],
              "mark": {"type": "line", "interpolate": "catmull-rom", "color": "#333333", "strokeWidth": 3},
              "encoding": {"x": {"field": "x", "type": "quantitative"}, "y": {"field": "y", "type": "quantitative"}, "detail": {"field": "s"}, "order": {"field": "el", "type": "quantitative"}}
            },
            {
              "data": {"name": "angEl"},
              "transform": [{"calculate": "1.085*cos(datum.a*PI/180)", "as": "x"}, {"calculate": "1.085*sin(datum.a*PI/180)", "as": "y"}],
              "mark": {"type": "text", "align": "center", "baseline": "middle", "fontSize": 32},
              "encoding": {"x": {"field": "x", "type": "quantitative"}, "y": {"field": "y", "type": "quantitative"}, "text": {"field": "t"}}
            },
            {
              "data": {"name": "dbLab"},
              "transform": [{"filter": "datum.d == -40"}, {"calculate": "pow(0.89,-datum.d/2)", "as": "x"}],
              "mark": {"type": "text", "align": "center", "baseline": "middle", "fontSize": 30, "dx": -6},
              "encoding": {"x": {"field": "x", "type": "quantitative"}, "y": {"datum": -0.07}, "text": {"field": "t"}}
            },
            {
              "data": {"name": "dbLab"},
              "transform": [{"filter": "datum.d != -40"}, {"calculate": "pow(0.89,-datum.d/2)", "as": "x"}],
              "mark": {"type": "text", "align": "center", "baseline": "middle", "fontSize": 30, "dx": 6},
              "encoding": {"x": {"field": "x", "type": "quantitative"}, "y": {"datum": -0.07}, "text": {"field": "t"}}
            },
            {"data": {"values": [{}]}, "mark": {"type": "text", "text": "dB", "align": "center", "baseline": "middle", "fontSize": 30}, "encoding": {"x": {"datum": 0.972}, "y": {"datum": -0.07}}},
            {"data": {"values": [{}]}, "mark": {"type": "text", "text": "Vee with Tails", "align": "center", "baseline": "alphabetic", "font": "Liberation Sans", "fontWeight": "normal", "fontSize": 54, "fill": "#3a3a3a"}, "encoding": {"x": {"datum": 0.5264}, "y": {"datum": 0.4771}}},
            {"data": {"values": [{}]}, "mark": {"type": "text", "text": "Ground-plane", "align": "center", "baseline": "alphabetic", "font": "Liberation Sans", "fontWeight": "normal", "fontSize": 54, "fill": "#3a3a3a"}, "encoding": {"x": {"datum": 0.3489}, "y": {"datum": 0.1196}}},
            {"data": {"values": [{}]}, "mark": {"type": "text", "text": ["VT13507", "GNDPLANE"], "align": "left", "baseline": "alphabetic", "fontSize": 32, "lineHeight": 40}, "encoding": {"x": {"datum": -1.3808}, "y": {"datum": 1.3068}}},
            {"data": {"values": [{}]}, "mark": {"type": "text", "text": "normal ground", "align": "right", "baseline": "alphabetic", "fontSize": 32}, "encoding": {"x": {"datum": 1.3061}, "y": {"datum": 1.313}}},
            {"data": {"values": [{}]}, "mark": {"type": "text", "text": "E l e v a t i o n", "align": "center", "baseline": "alphabetic", "fontSize": 32}, "encoding": {"x": {"datum": 0.0218}, "y": {"datum": -0.3524}}},
            {"data": {"values": [{}]}, "mark": {"type": "text", "text": ["25° 0° Azimuth", "0 dB = 3.52 dBd"], "align": "left", "baseline": "alphabetic", "fontSize": 32, "lineHeight": 44}, "encoding": {"x": {"datum": -1.3738}, "y": {"datum": -0.5519}}},
            {"data": {"values": [{}]}, "mark": {"type": "text", "text": "7.100 MHz\u00a0 0 dB = 4.57 dBd", "align": "left", "baseline": "alphabetic", "fontSize": 31}, "encoding": {"x": {"datum": 1.0103}, "y": {"datum": -0.6198}}},
            {"data": {"values": [{}]}, "mark": {"type": "rule", "color": "#a7aeab", "strokeWidth": 3}, "encoding": {"x": {"datum": -1.4939}, "y": {"datum": 1.425}, "y2": {"datum": -0.6878}}}
          ]
        },
        {
          "width": 1564,
          "height": 1367,
          "layer": [
            {
              "data": {"name": "ringsEl"},
              "transform": [{"flatten": ["ring"]}, {"flatten": ["a"]}, {"calculate": "pow(0.89,-datum.ring/2)", "as": "r"}, {"calculate": "datum.r*cos(datum.a*PI/180)", "as": "x"}, {"calculate": "datum.r*sin(datum.a*PI/180)", "as": "y"}],
              "mark": {"type": "line", "color": "#8c8c8c", "strokeWidth": 2, "strokeDash": [2, 5]},
              "encoding": {
                "x": {"field": "x", "type": "quantitative", "scale": {"domain": [-1.5543, 1.3745], "nice": false, "zero": false}},
                "y": {"field": "y", "type": "quantitative", "scale": {"domain": [-0.693, 1.4264], "nice": false, "zero": false}},
                "detail": {"field": "ring"},
                "order": {"field": "a", "type": "quantitative"}
              }
            },
            {
              "data": {"name": "spokesEl"},
              "transform": [{"flatten": ["s"]}, {"calculate": "pow(0.89,15)", "as": "r0"}, {"calculate": "datum.r0*cos(datum.s*PI/180)", "as": "x"}, {"calculate": "datum.r0*sin(datum.s*PI/180)", "as": "y"}, {"calculate": "cos(datum.s*PI/180)", "as": "x2"}, {"calculate": "sin(datum.s*PI/180)", "as": "y2"}],
              "mark": {"type": "rule", "color": "#8c8c8c", "strokeWidth": 2, "strokeDash": [2, 5]},
              "encoding": {"x": {"field": "x", "type": "quantitative"}, "y": {"field": "y", "type": "quantitative"}, "x2": {"field": "x2"}, "y2": {"field": "y2"}}
            },
            {"data": {"values": [{}]}, "mark": {"type": "rule", "color": "#8c8c8c", "strokeWidth": 2, "strokeDash": [2, 4]}, "encoding": {"x": {"datum": -1}, "x2": {"datum": 1}, "y": {"datum": 0}}},
            {
              "data": {"name": "dotsEl"},
              "transform": [{"flatten": ["m"]}, {"flatten": ["a"]}, {"calculate": "pow(0.89,-datum.m/2)", "as": "r"}, {"calculate": "datum.r*cos(datum.a*PI/180)", "as": "x"}, {"calculate": "datum.r*sin(datum.a*PI/180)", "as": "y"}],
              "mark": {"type": "circle", "size": 6, "color": "#999999", "opacity": 1},
              "encoding": {"x": {"field": "x", "type": "quantitative"}, "y": {"field": "y", "type": "quantitative"}}
            },
            {
              "data": {"name": "hel"},
              "transform": [{"calculate": "pow(0.89,-datum.dB/2)", "as": "r"}, {"calculate": "datum.r*cos(datum.el*PI/180)", "as": "x"}, {"calculate": "datum.r*sin(datum.el*PI/180)", "as": "y"}],
              "mark": {"type": "line", "interpolate": "catmull-rom", "color": "#333333", "strokeWidth": 3},
              "encoding": {"x": {"field": "x", "type": "quantitative"}, "y": {"field": "y", "type": "quantitative"}, "order": {"field": "el", "type": "quantitative"}}
            },
            {
              "data": {"name": "angEl"},
              "transform": [{"calculate": "1.085*cos(datum.a*PI/180)", "as": "x"}, {"calculate": "1.085*sin(datum.a*PI/180)", "as": "y"}],
              "mark": {"type": "text", "align": "center", "baseline": "middle", "fontSize": 32},
              "encoding": {"x": {"field": "x", "type": "quantitative"}, "y": {"field": "y", "type": "quantitative"}, "text": {"field": "t"}}
            },
            {
              "data": {"name": "dbLab"},
              "transform": [{"filter": "datum.d == -40"}, {"calculate": "pow(0.89,-datum.d/2)", "as": "x"}],
              "mark": {"type": "text", "align": "center", "baseline": "middle", "fontSize": 30, "dx": -7},
              "encoding": {"x": {"field": "x", "type": "quantitative"}, "y": {"datum": -0.07}, "text": {"field": "t"}}
            },
            {
              "data": {"name": "dbLab"},
              "transform": [{"filter": "datum.d != -40"}, {"calculate": "pow(0.89,-datum.d/2)", "as": "x"}],
              "mark": {"type": "text", "align": "center", "baseline": "middle", "fontSize": 30, "dx": 8},
              "encoding": {"x": {"field": "x", "type": "quantitative"}, "y": {"datum": -0.07}, "text": {"field": "t"}}
            },
            {"data": {"values": [{}]}, "mark": {"type": "text", "text": "dB", "align": "center", "baseline": "middle", "fontSize": 30}, "encoding": {"x": {"datum": 0.975}, "y": {"datum": -0.07}}},
            {"data": {"values": [{}]}, "mark": {"type": "text", "text": ["Vee with Tails 7 Mcs", "Horizontal"], "align": "left", "baseline": "alphabetic", "lineHeight": 42}, "encoding": {"x": {"datum": -1.3889}, "y": {"datum": 1.3171}}},
            {"data": {"values": [{}]}, "mark": {"type": "text", "text": "normal ground", "align": "right", "baseline": "alphabetic", "fontSize": 32}, "encoding": {"x": {"datum": 1.3075}, "y": {"datum": 1.3202}}},
            {"data": {"values": [{}]}, "mark": {"type": "text", "text": "E l e v a t i o n", "align": "center", "baseline": "alphabetic", "fontSize": 32}, "encoding": {"x": {"datum": 0.0189}, "y": {"datum": -0.3566}}},
            {"data": {"values": [{}]}, "mark": {"type": "text", "text": ["Horizontal", "Field", "7.100 MHz"], "align": "right", "baseline": "alphabetic", "fontSize": 32, "lineHeight": 42}, "encoding": {"x": {"datum": 1.3075}, "y": {"datum": -0.4856}}}
          ]
        }
      ]
    }
  ]
}
